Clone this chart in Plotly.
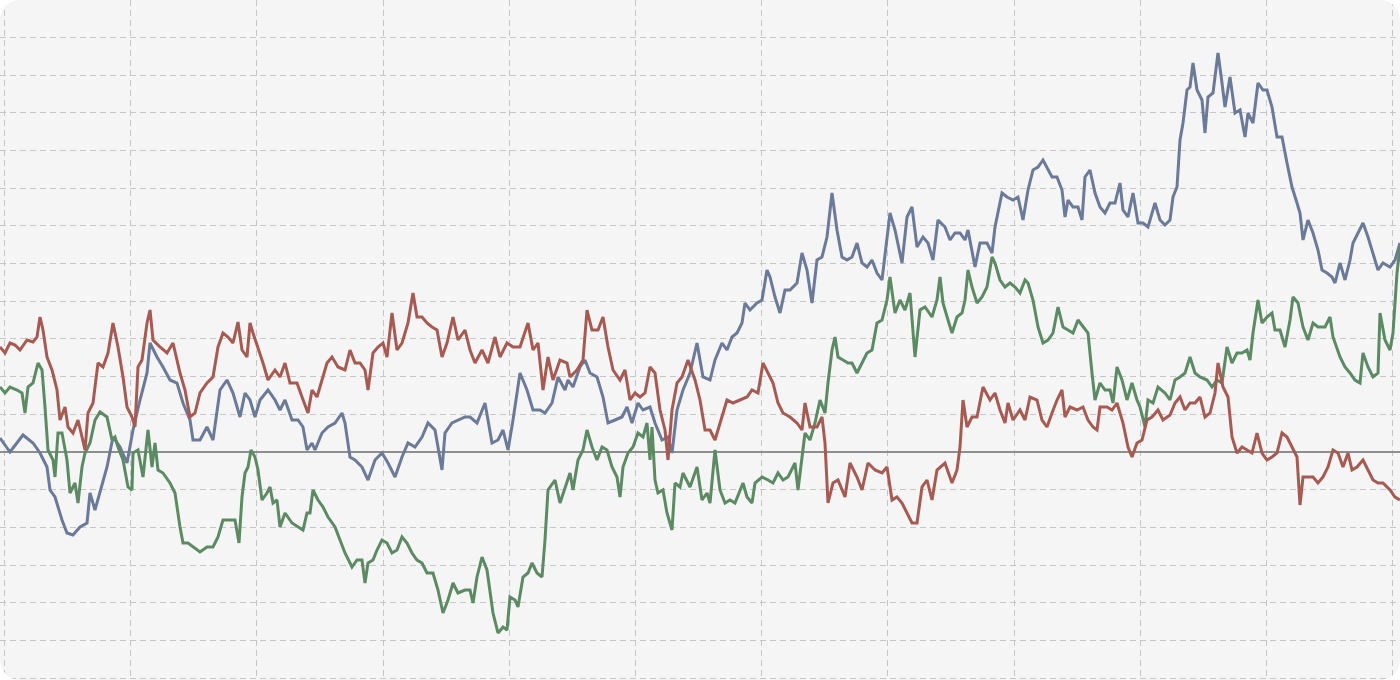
import plotly.graph_objects as go

# (time index, value relative to baseline)
blue_points = [
    (0, 14), (10, 0), (23, 17), (33, 9), (40, -1), (47, -15), (50, -38), (55, -45), (62, -68), (67, -81),
    (73, -83), (80, -75), (87, -71), (90, -41), (95, -58), (100, -41), (107, -15), (113, 15), (120, 5), (127, -11),
    (133, 22), (140, 52), (147, 79), (150, 109), (157, 95), (163, 85), (170, 72), (177, 69), (183, 49), (190, 32),
    (193, 12), (200, 12), (207, 25), (213, 12), (220, 62), (227, 72), (233, 59),
    (240, 35), (245, 59), (250, 52), (255, 35), (260, 52), (268, 62), (275, 52), (280, 42), (285, 52), (292, 32),
    (298, 32), (303, 25), (307, 2), (312, 9), (315, 2), (322, 19), (328, 25), (335, 29), (342, 39), (345, 29),
    (350, -5), (355, -8), (362, -15), (368, -28), (375, -8), (382, -1), (388, -11), (395, -25), (402, -5), (408, 9),
    (415, 5), (422, 15), (428, 29), (435, 22), (442, -18), (445, 19), (452, 29), (458, 32), (465, 35),
    (470, 35), (477, 29), (485, 49), (492, 9), (498, 12), (503, 22), (508, 2), (513, 32), (520, 79), (527, 62),
    (533, 42), (540, 42), (545, 39), (552, 49), (558, 75), (565, 62), (568, 72), (573, 65), (580, 85), (585, 92),
    (590, 79), (597, 75), (603, 55), (608, 29), (615, 32), (622, 35), (627, 45), (632, 29), (638, 49), (643, 42),
    (650, 45), (655, 29), (662, 12), (668, 15), (672, -1), (677, 42), (683, 62), (690, 79), (697, 109), (703, 75),
    (710, 72), (715, 92), (722, 109), (727, 102), (732, 115), (737, 119), (742, 129), (745, 149), (750, 142), (757, 149),
    (762, 152), (767, 182), (770, 175), (775, 155), (780, 139), (785, 162), (790, 162), (797, 169), (802, 199), (807, 182),
    (812, 149), (817, 192), (822, 195), (827, 215), (832, 259), (837, 222), (842, 195), (847, 192), (852, 195), (857, 209),
    (862, 189), (867, 185), (872, 192), (877, 179), (882, 172), (887, 215), (890, 239), (895, 222), (902, 189), (907, 235),
    (912, 245), (917, 205), (923, 215), (928, 209), (933, 192), (938, 232),
    (945, 225), (950, 212), (955, 219), (960, 219), (965, 212), (968, 222), (973, 195), (975, 185), (980, 209), (987, 209),
    (992, 199), (995, 225), (1002, 259), (1007, 255), (1013, 252), (1018, 255), (1023, 232), (1028, 262), (1033, 282),
    (1038, 285), (1043, 292), (1047, 285), (1052, 275), (1057, 275), (1062, 262), (1065, 235), (1068, 252), (1073, 245),
    (1078, 245), (1082, 232), (1085, 275), (1090, 282), (1095, 259), (1100, 245), (1105, 239), (1110, 249), (1115, 249),
    (1120, 269), (1123, 242), (1128, 235), (1133, 259), (1138, 229), (1143, 229), (1148, 225), (1155, 249),
    (1160, 232), (1165, 227), (1170, 232), (1173, 255), (1177, 265), (1180, 312), (1183, 329), (1187, 362), (1190, 365),
    (1193, 389), (1197, 362), (1202, 352), (1205, 319), (1208, 355), (1213, 359), (1218, 399), (1222, 369), (1225, 345),
    (1230, 375), (1235, 339), (1240, 342), (1245, 315), (1248, 339), (1253, 329), (1258, 369), (1263, 362), (1267, 362),
    (1272, 345), (1277, 315), (1282, 315), (1287, 289), (1292, 265), (1297, 249), (1300, 239), (1303, 212), (1308, 232),
    (1313, 219), (1318, 202), (1322, 182), (1327, 179), (1332, 175), (1335, 169), (1340, 189), (1345, 172), (1350, 192),
    (1353, 209), (1358, 219), (1363, 229), (1368, 215), (1373, 199), (1378, 182), (1383, 189), (1390, 185), (1395, 192),
    (1400, 209),
]

red_points = [
    (0, 105), (5, 99), (10, 109), (15, 107), (20, 102), (27, 112), (33, 110), (37, 115), (40, 135), (43, 122),
    (47, 95), (52, 82), (57, 62), (60, 32), (65, 45), (68, 25), (73, 19), (78, 32), (82, 15), (85, 2),
    (88, 39), (93, 49), (98, 89), (103, 85), (108, 99), (113, 129), (118, 105), (123, 75), (127, 45), (132, 35),
    (135, 25), (138, 85), (142, 92), (147, 129), (150, 142), (153, 112), (160, 105), (167, 99), (173, 109), (180, 79),
    (185, 62), (190, 35), (195, 39), (200, 59), (207, 69), (213, 75), (218, 105), (223, 119), (228, 115), (233, 109),
    (238, 130), (242, 102), (247, 95), (250, 129), (253, 119), (258, 105), (263, 89), (268, 72), (275, 82), (280, 75),
    (285, 89), (290, 69), (297, 69), (302, 55), (308, 39), (312, 62), (317, 55), (322, 72), (327, 89), (332, 95),
    (338, 85), (345, 82), (350, 102), (355, 89), (360, 89), (365, 82), (368, 62), (373, 99), (378, 105), (383, 109),
    (387, 95), (392, 139), (397, 102), (402, 109), (408, 129), (413, 159), (417, 135), (422, 135), (427, 129), (432, 125),
    (437, 122), (442, 95), (447, 109), (453, 135), (458, 112), (465, 122),
    (470, 102), (475, 89), (482, 102), (488, 89), (495, 115), (500, 95), (507, 109), (513, 105), (520, 105), (528, 129),
    (533, 102), (538, 109), (543, 62), (548, 95), (553, 72), (560, 92), (567, 89), (570, 75), (577, 82), (583, 92),
    (587, 142), (592, 122), (598, 122), (603, 135), (608, 105), (613, 82), (620, 72), (625, 82), (630, 52), (635, 59),
    (640, 55), (645, 59), (650, 85), (655, 79), (660, 42), (665, 22), (668, -8), (672, 42), (677, 69), (682, 75),
    (688, 92), (695, 72), (700, 52), (705, 22),
    (710, 22), (715, 12), (722, 35), (727, 52), (733, 49), (740, 52), (747, 55), (752, 62), (758, 59), (763, 89),
    (768, 79), (773, 69), (778, 49), (783, 39), (790, 35), (797, 29), (802, 22), (805, 49), (810, 25), (817, 25),
    (822, 35), (825, 9), (828, -51), (833, -31), (838, -28), (845, -45), (850, -11), (857, -25), (862, -38), (868, -11),
    (875, -18), (882, -21), (887, -15), (892, -48), (897, -45), (902, -51), (907, -61), (912, -71), (917, -71), (922, -35),
    (927, -28), (932, -48), (937, -18),
    (942, -14), (945, -11), (952, -31), (957, -18), (960, 5), (963, 52), (967, 25), (972, 35), (977, 35), (983, 65),
    (990, 52), (995, 59), (1000, 42), (1005, 29), (1008, 49), (1013, 32), (1020, 42), (1025, 32), (1030, 55), (1037, 52),
    (1042, 32), (1047, 25), (1052, 39), (1057, 52), (1062, 62), (1065, 35), (1070, 45), (1077, 42), (1083, 45), (1088, 32),
    (1093, 25), (1097, 22), (1100, 45), (1107, 45), (1112, 42), (1117, 49), (1123, 29), (1128, 5), (1132, -5), (1137, 9),
    (1142, 12), (1147, 32), (1152, 35), (1158, 42),
    (1163, 32), (1170, 37), (1175, 49), (1180, 55), (1185, 42), (1190, 49), (1195, 49), (1200, 55), (1205, 35), (1210, 39),
    (1215, 59), (1218, 89), (1223, 65), (1228, 55), (1232, 15), (1237, -1), (1242, 5), (1247, 2), (1252, -1), (1257, 19),
    (1262, -1), (1267, -8), (1272, -5), (1277, -1), (1282, 19), (1287, 15), (1292, 5), (1297, -5), (1300, -53), (1303, -25),
    (1308, -25), (1313, -25), (1318, -31), (1323, -25), (1328, -15), (1333, 2), (1338, -1), (1343, -15), (1348, -1), (1352, -18),
    (1357, -15), (1363, -8), (1368, -18), (1373, -28), (1378, -31), (1383, -31), (1390, -38), (1395, -45), (1400, -48),
]

green_points = [
    (0, 65), (5, 59), (10, 65), (17, 62), (22, 59), (25, 39), (28, 65), (33, 69), (38, 89), (42, 82),
    (45, 45), (48, 2), (53, -8), (55, -25), (58, 19), (62, 19), (67, -8), (70, -41), (75, -31), (78, -51),
    (82, -15), (85, -1), (90, 9), (95, 32), (100, 40), (107, 35), (112, 12), (115, 15), (118, 5), (123, -8),
    (128, -35), (132, -38), (133, -1), (138, 2), (143, -25), (148, 22), (152, -15), (155, 9), (158, -18), (163, -21),
    (170, -31), (175, -41), (180, -75), (183, -91), (188, -91), (193, -95), (200, -100), (207, -95), (213, -95), (218, -85),
    (223, -68), (230, -68), (235, -68),
    (239, -91), (242, -45), (245, -21), (248, -15), (251, 2), (255, -5), (258, -18), (262, -48), (267, -41), (270, -35),
    (273, -51), (277, -48), (280, -75), (285, -61), (292, -71), (298, -75), (303, -78), (307, -61), (310, -61), (313, -38),
    (318, -48), (323, -55), (328, -65), (335, -75), (340, -88), (345, -101), (352, -115), (357, -108), (362, -108), (365, -131),
    (368, -111), (373, -108), (377, -98), (382, -88), (387, -91), (392, -101), (397, -98), (402, -85), (407, -91), (412, -101),
    (417, -108), (422, -111), (427, -121), (433, -121), (438, -138), (443, -161), (448, -148), (453, -131), (458, -141), (465, -138),
    (470, -138), (473, -151), (477, -125), (482, -105), (487, -118), (490, -138), (493, -161), (498, -181), (503, -175), (507, -178),
    (510, -145), (515, -148), (518, -155), (523, -125), (528, -121), (532, -111), (537, -121), (542, -125), (545, -88), (548, -38),
    (555, -28), (560, -51), (565, -35), (570, -21), (573, -38), (578, -8), (583, 2), (587, 22), (592, 5), (597, -8),
    (602, 5), (607, 2), (612, -15), (617, -25), (620, -45), (623, -15), (628, -1), (633, 5), (638, 19), (643, 15),
    (647, 29), (650, -8), (652, 25), (655, -28), (658, -41), (663, -38), (667, -61), (672, -78), (675, -31), (680, -35),
    (683, -21), (690, -35), (697, -15), (702, -48), (707, -41),
    (710, -51), (715, 2), (720, -38), (725, -51), (730, -48), (735, -51), (740, -38), (743, -31), (747, -45), (752, -51),
    (755, -31), (762, -25), (768, -28), (773, -31), (778, -21), (783, -28), (788, -25), (795, -11), (798, -38), (802, -5),
    (805, 19), (810, 12), (815, 29), (820, 52), (825, 39), (828, 69), (832, 102), (835, 115), (838, 95), (843, 92),
    (848, 89), (852, 89), (857, 79), (862, 89), (867, 99), (872, 102), (877, 129), (882, 132), (887, 152), (890, 175),
    (895, 139), (900, 152), (905, 142), (910, 159), (915, 95), (920, 142), (925, 145), (932, 135), (937, 152),
    (940, 175), (943, 149), (948, 132), (952, 119), (957, 135), (962, 139), (965, 152), (968, 182), (972, 165), (977, 149),
    (982, 155), (987, 165), (992, 195), (995, 189), (1000, 172), (1005, 165), (1010, 169), (1015, 165), (1020, 159), (1025, 172),
    (1028, 169), (1033, 152), (1038, 125), (1043, 109), (1048, 112), (1053, 119), (1058, 145), (1063, 125), (1068, 122), (1073, 119),
    (1078, 132), (1083, 125), (1088, 119), (1092, 79), (1095, 52), (1100, 69), (1105, 62), (1110, 62), (1113, 49), (1117, 85),
    (1122, 72), (1127, 52), (1132, 69), (1137, 52), (1140, 45), (1145, 25), (1148, 52), (1153, 49), (1158, 65),
    (1165, 59), (1170, 52), (1175, 72), (1180, 75), (1185, 79), (1190, 95), (1195, 79), (1200, 75), (1207, 72), (1212, 65),
    (1217, 72), (1222, 69), (1227, 105), (1232, 89), (1237, 99), (1242, 99), (1247, 102), (1250, 92), (1253, 119), (1258, 152),
    (1262, 129), (1267, 135), (1272, 139), (1275, 122), (1280, 122), (1285, 105), (1290, 132), (1293, 155), (1298, 149), (1303, 125),
    (1308, 112), (1313, 129), (1318, 125), (1325, 125), (1330, 135), (1333, 115), (1340, 95), (1345, 85), (1350, 79), (1355, 72),
    (1360, 69), (1363, 99), (1368, 85), (1373, 75), (1378, 79), (1380, 139), (1385, 112), (1390, 102), (1393, 119), (1397, 179),
    (1400, 205),
]

series_names = ["Series A", "Series B", "Series C"]
series_colors = ["#6b7a99", "#5b8a63", "#a65a52"]
series_data = [blue_points, green_points, red_points]

fig = go.Figure()
for name, color, pts in zip(series_names, series_colors, series_data):
    t, v = zip(*pts)
    fig.add_trace(go.Scatter(
        x=list(t), y=list(v), mode="lines", name=name,
        line=dict(color=color, width=3), hoverinfo="skip",
    ))

# rounded card corners (paper coordinates)
W, H, R = 1400, 680, 20
rx, ry = R / W, R / H
k = 0.5523
corners = [
    f"M 0,1 L {rx},1 C {rx*(1-k)},1 0,{1-ry*(1-k)} 0,{1-ry} Z",
    f"M 1,1 L {1-rx},1 C {1-rx*(1-k)},1 1,{1-ry*(1-k)} 1,{1-ry} Z",
    f"M 0,0 L {rx},0 C {rx*(1-k)},0 0,{ry*(1-k)} 0,{ry} Z",
    f"M 1,0 L {1-rx},0 C {1-rx*(1-k)},0 1,{ry*(1-k)} 1,{ry} Z",
]
shapes = [dict(type="path", path=p, xref="paper", yref="paper",
               fillcolor="#ffffff", line=dict(width=0), layer="above") for p in corners]

fig.update_layout(
    width=W, height=H, autosize=False,
    margin=dict(l=0, r=0, t=0, b=0, pad=0),
    paper_bgcolor="#ffffff", plot_bgcolor="#f5f5f5",
    showlegend=False,
    shapes=shapes,
    xaxis=dict(range=[0, 1400], showticklabels=False, ticks="", zeroline=False,
               showgrid=True, gridcolor="#c6c6c6", gridwidth=1, griddash="6px,4px",
               tick0=4.5, dtick=126.2, showline=False),
    yaxis=dict(range=[-228, 452], showticklabels=False, ticks="",
               zeroline=True, zerolinecolor="#8e8e8e", zerolinewidth=1.5,
               showgrid=True, gridcolor="#c6c6c6", gridwidth=1, griddash="6px,4px",
               tick0=0, dtick=37.7, showline=False),
)

fig.write_html(
    "out.html",
    config={"displayModeBar": False, "staticPlot": True},
    post_script="document.body.style.margin='0';document.body.style.overflow='hidden';",
)
